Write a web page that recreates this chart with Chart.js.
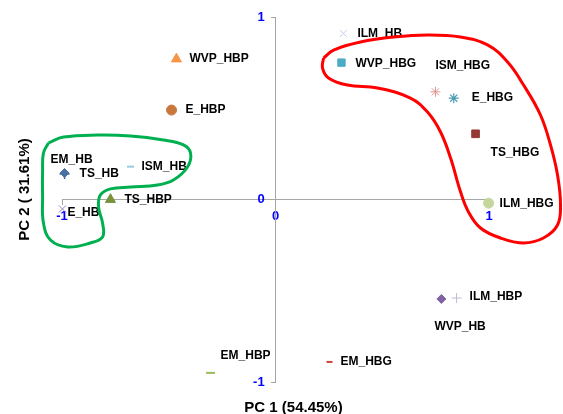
<!DOCTYPE html>
<html>
<head>
<meta charset="utf-8">
<script src="https://cdn.jsdelivr.net/npm/chart.js@4.4.1/dist/chart.umd.min.js"></script>
<style>
  html, body { margin: 0; padding: 0; background: #fff; }
  #wrap { width: 563px; height: 414px; }
</style>
</head>
<body>
<div id="wrap"><canvas id="pca" width="563" height="414"></canvas></div>
<script>
// samples and their scores on PC1 / PC2
var sampleNames = ['WVP_HBP', 'E_HBP', 'ISM_HB', 'EM_HB', 'TS_HB', 'TS_HBP', 'E_HB', 'EM_HBP', 'EM_HBG',
  'WVP_HB', 'ILM_HBP', 'ILM_HBG', 'ILM_HB', 'WVP_HBG', 'ISM_HBG', 'E_HBG', 'TS_HBG'];
var pc1 = [-0.464, -0.487, -0.679, -0.988, -0.988, -0.773, -0.998, -0.304, 0.253,
  0.777, 0.848, 0.998, 0.318, 0.309, 0.749, 0.835, 0.937];
var pc2 = [0.77, 0.49, 0.18, 0.14, 0.145, 0.0, -0.052, -0.95, -0.89,
  -0.545, -0.54, -0.02, 0.91, 0.75, 0.59, 0.555, 0.36];
var axisTicks = [-1, 0, 1];

// hand drawn group outlines (in PC units)
var greenLoopX = [-1.063, -0.993, -0.834, -0.679, -0.525, -0.431, -0.398, -0.412, -0.478, -0.553, -0.679, -0.773,
  -0.82, -0.829, -0.81, -0.81, -0.867, -0.974, -1.054, -1.087, -1.091, -1.091, -1.087, -1.063];
var greenLoopY = [0.31, 0.342, 0.353, 0.348, 0.326, 0.299, 0.255, 0.178, 0.107, 0.079, 0.068, 0.058,
  0.025, -0.041, -0.129, -0.205, -0.238, -0.26, -0.222, -0.129, 0.014, 0.162, 0.255, 0.31];
var redLoopX = [0.225, 0.272, 0.398, 0.553, 0.712, 0.867, 0.993, 1.087, 1.162, 1.241, 1.288, 1.321, 1.335, 1.321,
  1.255, 1.162, 1.054, 0.96, 0.904, 0.867, 0.82, 0.773, 0.712, 0.632, 0.478, 0.337, 0.248, 0.22, 0.225];
var redLoopY = [0.775, 0.819, 0.863, 0.89, 0.901, 0.89, 0.847, 0.753, 0.627, 0.463, 0.299, 0.134, -0.03, -0.14,
  -0.211, -0.238, -0.211, -0.156, -0.068, 0.041, 0.227, 0.37, 0.479, 0.556, 0.611, 0.627, 0.666, 0.721, 0.775];

// marker look
var markerStyle = ['triangle', 'circle', 'line', 'cross', 'rectRot', 'triangle', 'crossRot', 'line', 'line',
  'rectRot', 'cross', 'circle', 'crossRot', 'rect', 'star', 'star', 'rect'];
var markerColor = ['#f79646', '#c8783c', '#93cddd', '#3d64a0', '#4a6fa5', '#77933c', '#9583c9', '#9bbb59', '#d0403d',
  '#8064a2', '#c4b8d8', '#c3d69b', '#c5cfe5', '#4bacc6', '#d99694', '#4a9cb5', '#953735'];
var markerSize = [5.8, 5, 3.5, 5, 4.5, 5.8, 5, 4.5, 3, 4.5, 5, 5, 5, 5.2, 5, 5, 5.4];
var markerLine = [1, 1, 2, 1.5, 1, 1, 1, 2, 2, 1, 1, 1, 1, 1, 1, 1.2, 1];

// label offsets from the marker, px
var labelDx = [13, 14, 11, -14, 15, 14, 5, 10, 11, -7, 13, 11, 14, 14, 0, 18, 15];
var labelDy = [0, 0, 0, -14, 1, 0, 4, -17, 0, 28, -1, 1, 0, 1, -26, -1, 19];

var FONT = '"Liberation Sans", Arial, sans-serif';

function toPoints(xs, ys) {
  return xs.map(function (x, i) { return { x: x, y: ys[i] }; });
}

var pointLabels = {
  id: 'pointLabels',
  beforeDatasetsDraw: function (chart) {
    var meta = chart.getDatasetMeta(2);
    var ctx = chart.ctx;
    ctx.save();
    ctx.font = 'bold 12px ' + FONT;
    ctx.fillStyle = '#000';
    ctx.textBaseline = 'middle';
    ctx.textAlign = 'left';
    meta.data.forEach(function (pt, i) {
      ctx.fillText(sampleNames[i], pt.x + labelDx[i], pt.y + labelDy[i]);
    });
    ctx.restore();
  }
};

var axisTitles = {
  id: 'axisTitles',
  afterDraw: function (chart) {
    var a = chart.chartArea;
    var ctx = chart.ctx;
    ctx.save();
    ctx.font = 'bold 15px ' + FONT;
    ctx.fillStyle = '#000';
    ctx.textAlign = 'center';
    ctx.textBaseline = 'middle';
    ctx.fillText('PC 1 (54.45%)', (a.left + a.right) / 2 + 18, a.bottom + 26);
    ctx.translate(25, (a.top + a.bottom) / 2 - 10);
    ctx.rotate(-Math.PI / 2);
    ctx.fillText('PC 2 ( 31.61%)', 0, 0);
    ctx.restore();
  }
};

function setTicks(scale) {
  scale.ticks = axisTicks.map(function (v) { return { value: v }; });
}

new Chart(document.getElementById('pca'), {
  type: 'scatter',
  data: {
    datasets: [{
      data: toPoints(redLoopX, redLoopY),
      showLine: true,
      borderColor: '#ff0000',
      borderWidth: 3,
      pointRadius: 0,
      tension: 0.4,
      clip: false
    }, {
      data: toPoints(greenLoopX, greenLoopY),
      showLine: true,
      borderColor: '#00b050',
      borderWidth: 3,
      pointRadius: 0,
      tension: 0.4,
      clip: false
    }, {
      data: toPoints(pc1, pc2),
      pointStyle: markerStyle,
      pointRadius: markerSize,
      pointBackgroundColor: markerColor,
      pointBorderColor: markerColor,
      pointBorderWidth: markerLine,
      clip: false
    }]
  },
  options: {
    responsive: false,
    animation: false,
    layout: { padding: { left: 62, right: 74, top: 17, bottom: 32 } },
    plugins: { legend: { display: false }, tooltip: { enabled: false } },
    scales: {
      x: {
        type: 'linear',
        min: -1,
        max: 1,
        position: { y: 0 },
        afterBuildTicks: setTicks,
        grid: { drawOnChartArea: false, tickLength: 5, color: '#a6a6a6' },
        border: { color: '#a6a6a6' },
        ticks: { color: '#0000ff', font: { family: FONT, size: 13, weight: 'bold' }, padding: 4, maxRotation: 0 }
      },
      y: {
        type: 'linear',
        min: -1,
        max: 1,
        position: { x: 0 },
        afterBuildTicks: setTicks,
        grid: { drawOnChartArea: false, tickLength: 4, color: '#a6a6a6' },
        border: { color: '#a6a6a6' },
        ticks: {
          color: '#0000ff',
          font: { family: FONT, size: 13, weight: 'bold' },
          // centred axes ignore padding, so trailing spaces push the label off the line
          callback: function (v) { return v + '   '; }
        }
      }
    }
  },
  plugins: [pointLabels, axisTitles]
});
</script>
</body>
</html>
